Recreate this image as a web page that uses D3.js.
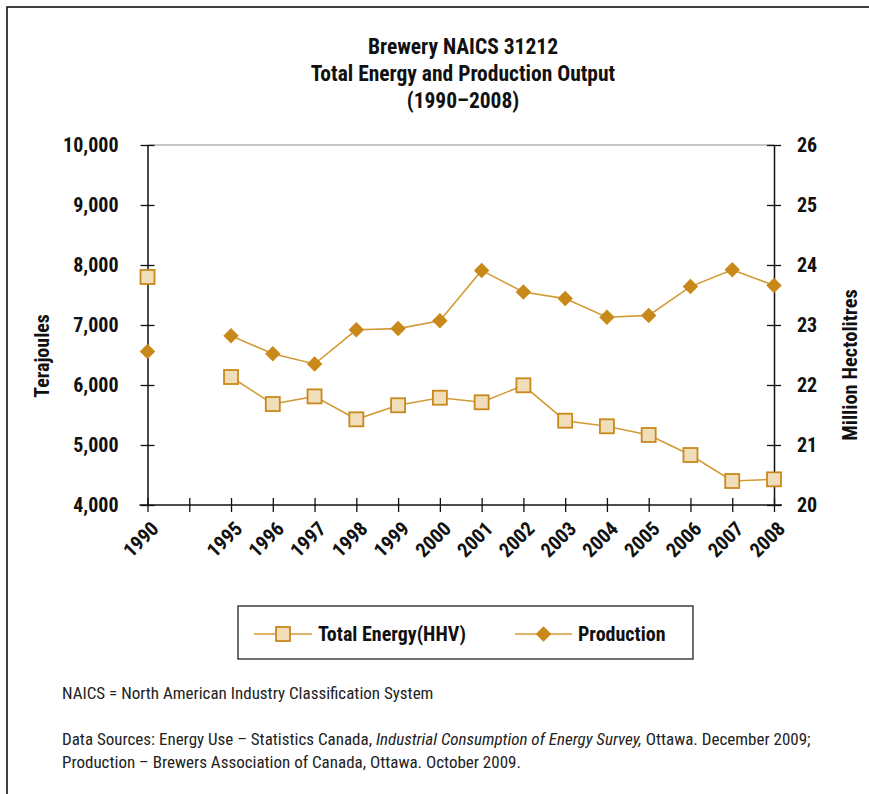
<!DOCTYPE html>
<html><head><meta charset="utf-8">
<script src="https://cdn.jsdelivr.net/npm/d3@7"></script>
<style>
body{margin:0;background:#fff;}
svg{display:block;}
</style></head><body>
<svg id="c" width="869" height="794"></svg>
<script>
const categories = ["1990","","1995","1996","1997","1998","1999","2000","2001","2002","2003","2004","2005","2006","2007","2008"];
const energy = [7800,null,6133,5683,5810,5428,5662,5788,5712,5995,5405,5312,5167,4833,4400,4428];
const production = [22.56,null,22.82,22.52,22.35,22.92,22.94,23.07,23.91,23.55,23.44,23.13,23.16,23.64,23.92,23.66];
const leftTicks = [4000,5000,6000,7000,8000,9000,10000];
const rightTicks = [20,21,22,23,24,25,26];
const titleLines = ["Brewery NAICS 31212","Total Energy and Production Output","(1990\u20132008)"];

const gold = "#C8891A", lineGold = "#D39A35", sqFill = "#F0DDB9";
const svg = d3.select("#c");
const F = "'Liberation Sans Narrow','Roboto Condensed','Arial Narrow','Liberation Sans',sans-serif";

// outer frame
svg.append("rect").attr("x",7).attr("y",7).attr("width",900).attr("height",900)
  .attr("fill","none").attr("stroke","#111").attr("stroke-width",1.6);

const L = 147.5, R = 774, T = 145, B = 505;
const x = d3.scalePoint().domain(d3.range(categories.length)).range([L,R]);
const yL = d3.scaleLinear().domain([4000,10000]).range([B,T]);
const yR = d3.scaleLinear().domain([20,26]).range([B,T]);

// title
svg.append("text").attr("text-anchor","middle").attr("font-family",F).attr("font-weight","bold")
  .attr("font-size",21.5).attr("fill","#111")
  .selectAll("tspan").data(titleLines).join("tspan")
  .attr("x",463).attr("y",(d,i)=>54+i*27).text(d=>d);

// top border line of plot
svg.append("line").attr("x1",L).attr("x2",R).attr("y1",T).attr("y2",T)
  .attr("stroke","#b3b3b3").attr("stroke-width",1.3);

// left axis
const gL = svg.append("g").attr("transform",`translate(${L},0)`)
  .call(d3.axisLeft(yL).tickValues(leftTicks).tickFormat(d3.format(",")).tickSize(0).tickPadding(29));
gL.select(".domain").attr("stroke","#111").attr("stroke-width",1.5);
gL.selectAll(".tick text").attr("font-family",F).attr("font-weight","bold").attr("font-size",20).attr("fill","#111");
gL.selectAll(".tick").append("line").attr("x1",-7).attr("x2",7).attr("stroke","#111").attr("stroke-width",1.3);

// right axis
const gR = svg.append("g").attr("transform",`translate(${R},0)`)
  .call(d3.axisRight(yR).tickValues(rightTicks).tickFormat(d3.format("d")).tickSize(0).tickPadding(23));
gR.select(".domain").attr("stroke","#111").attr("stroke-width",1.5);
gR.selectAll(".tick text").attr("font-family",F).attr("font-weight","bold").attr("font-size",20).attr("fill","#111");
gR.selectAll(".tick").append("line").attr("x1",-7).attr("x2",7).attr("stroke","#111").attr("stroke-width",1.3);

// bottom axis
const gB = svg.append("g").attr("transform",`translate(0,${B})`)
  .call(d3.axisBottom(x).tickFormat(i=>categories[i]).tickSize(0).tickPadding(0));
gB.select(".domain").attr("d",`M${L-8},0H${R+8}`).attr("stroke","#111").attr("stroke-width",1.5);
gB.selectAll(".tick").append("line").attr("y1",-7).attr("y2",7).attr("stroke","#111").attr("stroke-width",1.3);
gB.selectAll(".tick text").attr("font-family",F).attr("font-weight","bold").attr("font-size",20).attr("fill","#111")
  .attr("text-anchor","end").attr("dy",0).attr("transform","translate(12,25) rotate(-45)");

// axis titles
svg.append("text").attr("transform","translate(49,356) rotate(-90)").attr("text-anchor","middle")
  .attr("font-family",F).attr("font-weight","bold").attr("font-size",20).attr("fill","#111").text("Terajoules");
svg.append("text").attr("transform","translate(857,365) rotate(-90)").attr("text-anchor","middle")
  .attr("font-family",F).attr("font-weight","bold").attr("font-size",20.5).attr("fill","#111").text("Million Hectolitres");

// lines
const idx = d3.range(categories.length);
svg.append("path").datum(idx)
  .attr("d",d3.line().defined(i=>energy[i]!=null).x(i=>x(i)).y(i=>yL(energy[i])))
  .attr("fill","none").attr("stroke",lineGold).attr("stroke-width",1.6);
svg.append("path").datum(idx)
  .attr("d",d3.line().defined(i=>production[i]!=null).x(i=>x(i)).y(i=>yR(production[i])))
  .attr("fill","none").attr("stroke",lineGold).attr("stroke-width",1.6);

// markers
const sq = 14;
svg.selectAll(".sq").data(idx.filter(i=>energy[i]!=null)).join("rect")
  .attr("x",i=>x(i)-sq/2).attr("y",i=>yL(energy[i])-sq/2).attr("width",sq).attr("height",sq)
  .attr("fill",sqFill).attr("stroke",gold).attr("stroke-width",1.8);
const dm = d3.symbol().type(d3.symbolSquare).size(120);
svg.selectAll(".dm").data(idx.filter(i=>production[i]!=null)).join("path")
  .attr("d",dm).attr("transform",i=>`translate(${x(i)},${yR(production[i])}) rotate(45)`)
  .attr("fill",gold);

// legend
svg.append("rect").attr("x",238).attr("y",606).attr("width",455).attr("height",53)
  .attr("fill","none").attr("stroke","#222").attr("stroke-width",1.3);
const lg = svg.append("g");
lg.append("line").attr("x1",254).attr("x2",312).attr("y1",634).attr("y2",634).attr("stroke",lineGold).attr("stroke-width",1.6);
lg.append("rect").attr("x",276).attr("y",627).attr("width",14).attr("height",14).attr("fill",sqFill).attr("stroke",gold).attr("stroke-width",1.8);
lg.append("text").attr("x",318).attr("y",641).attr("font-family",F).attr("font-weight","bold").attr("font-size",20).attr("fill","#111").text("Total Energy(HHV)");
lg.append("line").attr("x1",515).attr("x2",572).attr("y1",634).attr("y2",634).attr("stroke",lineGold).attr("stroke-width",1.6);
lg.append("path").attr("d",dm).attr("transform","translate(543.5,634) rotate(45)").attr("fill",gold);
lg.append("text").attr("x",578).attr("y",641).attr("font-family",F).attr("font-weight","bold").attr("font-size",20).attr("fill","#111").text("Production");

// footnotes
const fn = svg.append("g").attr("font-family",F).attr("font-size",17).attr("fill","#222");
fn.append("text").attr("x",62).attr("y",699).text("NAICS = North American Industry Classification System");
const t2 = fn.append("text").attr("x",62).attr("y",745);
t2.append("tspan").text("Data Sources: Energy Use \u2013 Statistics Canada, ");
t2.append("tspan").attr("font-style","italic").text("Industrial Consumption of Energy Survey,");
t2.append("tspan").text(" Ottawa. December 2009;");
fn.append("text").attr("x",62).attr("y",768).text("Production \u2013 Brewers Association of Canada, Ottawa. October 2009.");
</script>
</body></html>
